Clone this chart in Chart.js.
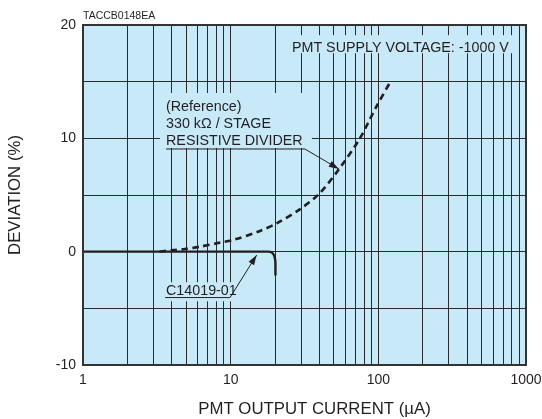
<!DOCTYPE html>
<html>
<head>
<meta charset="utf-8">
<script src="https://cdn.jsdelivr.net/npm/chart.js@4/dist/chart.umd.min.js"></script>
<style>
  html, body { margin: 0; padding: 0; background: #fff; }
  #wrap { width: 542px; height: 419px; }
</style>
</head>
<body>
<div id="wrap"><canvas id="chart" width="542" height="419"></canvas></div>
<script>
// PMT output current (uA) vs deviation (%)
const modelCurrent   = [1, 5, 10, 15, 17.9, 19, 19.7, 20.05, 20.1, 20.1];
const modelDeviation = [0, 0, 0, 0, 0, -0.08, -0.35, -0.8, -1.4, -2.1];

const refCurrent   = [3.3, 4.1, 4.8, 6.2, 8.5, 10.4, 15.8, 20.5, 29.5, 40, 55, 75, 97, 122];
const refDeviation = [0, 0.15, 0.22, 0.44, 0.8, 1.03, 1.83, 2.5, 3.75, 5.15, 7.4, 10, 12.8, 15.1];

const currentGrid = [1, 2, 3, 4, 5, 6, 7, 8, 9, 10, 20, 30, 40, 50, 60, 70, 80, 90,
                     100, 200, 300, 400, 500, 600, 700, 800, 900, 1000];
const currentLabels = [1, 10, 100, 1000];
const deviationLabels = [-10, 0, 10, 20];

const ink = "#231f20";
const plotBg = "#c8e9f8";
const family = "'Liberation Sans', Arial, sans-serif";
const annFont = "14.3px " + family;

function toXY(xs, ys) {
    return xs.map((x, i) => ({ x: x, y: ys[i] }));
}

function arrowHead(ctx, x0, y0, x1, y1) {
    const ang = Math.atan2(y1 - y0, x1 - x0);
    const len = 10, half = 3.2;
    ctx.beginPath();
    ctx.moveTo(x1, y1);
    ctx.lineTo(x1 - len * Math.cos(ang) + half * Math.sin(ang), y1 - len * Math.sin(ang) - half * Math.cos(ang));
    ctx.lineTo(x1 - len * Math.cos(ang) - half * Math.sin(ang), y1 - len * Math.sin(ang) + half * Math.cos(ang));
    ctx.closePath();
    ctx.fill();
}

const plotBackground = {
    id: "plotBackground",
    beforeDraw(chart) {
        const { ctx, chartArea: a } = chart;
        ctx.save();
        ctx.fillStyle = plotBg;
        ctx.fillRect(a.left, a.top, a.right - a.left, a.bottom - a.top);
        ctx.restore();
    }
};

const notes = {
    id: "notes",
    beforeDatasetsDraw(chart) {
        const { ctx, chartArea: a } = chart;
        const xs = chart.scales.x, ys = chart.scales.y;
        ctx.save();

        // label boxes knock out the grid behind the text
        ctx.fillStyle = plotBg;
        let px = xs.getPixelForValue(24.4), py = ys.getPixelForValue(19.1);
        ctx.fillRect(px, py, 228, 18);
        px = xs.getPixelForValue(3.32); py = ys.getPixelForValue(14);
        ctx.fillRect(px, py, 152, 55);
        px = xs.getPixelForValue(3.4); py = ys.getPixelForValue(-2.7);
        ctx.fillRect(px, py, 77, 19);

        ctx.fillStyle = ink;
        ctx.font = annFont;
        ctx.textBaseline = "alphabetic";
        ctx.textAlign = "left";

        ctx.fillText("PMT SUPPLY VOLTAGE: -1000 V", xs.getPixelForValue(26), ys.getPixelForValue(17.6));

        px = xs.getPixelForValue(3.65);
        ctx.fillText("(Reference)", px, ys.getPixelForValue(12.45));
        ctx.fillText("330 k\u03A9 / STAGE", px, ys.getPixelForValue(10.95));
        ctx.fillText("RESISTIVE DIVIDER", px, ys.getPixelForValue(9.42));

        ctx.fillText("C14019-01", xs.getPixelForValue(3.65), ys.getPixelForValue(-3.83));

        // caption code above the plot
        ctx.font = "10.5px " + family;
        ctx.fillText("TACCB0148EA", a.left, a.top - 6);
        ctx.restore();
    },
    afterDatasetsDraw(chart) {
        const { ctx, chartArea: a } = chart;
        const xs = chart.scales.x, ys = chart.scales.y;
        ctx.save();
        ctx.strokeStyle = ink;
        ctx.fillStyle = ink;
        ctx.lineWidth = 1;

        // reference divider leader
        let ux0 = xs.getPixelForValue(3.65), ux1 = xs.getPixelForValue(31.8), uy = ys.getPixelForValue(9.06);
        let tx = xs.getPixelForValue(54), ty = ys.getPixelForValue(7.3);
        ctx.beginPath();
        ctx.moveTo(ux0, uy);
        ctx.lineTo(ux1, uy);
        ctx.lineTo(tx, ty);
        ctx.stroke();
        arrowHead(ctx, ux1, uy, tx, ty);

        // C14019-01 leader
        ux0 = xs.getPixelForValue(3.6); ux1 = xs.getPixelForValue(9.9); uy = ys.getPixelForValue(-4.05);
        tx = xs.getPixelForValue(15); ty = ys.getPixelForValue(-0.3);
        ctx.beginPath();
        ctx.moveTo(ux0, uy);
        ctx.lineTo(ux1, uy);
        ctx.lineTo(tx, ty);
        ctx.stroke();
        arrowHead(ctx, ux1, uy, tx, ty);

        // plot frame
        ctx.strokeStyle = "#333";
        ctx.lineWidth = 2;
        ctx.strokeRect(a.left, a.top, a.right - a.left, a.bottom - a.top);

        // x axis title
        ctx.fillStyle = ink;
        ctx.font = "16.8px " + family;
        ctx.textAlign = "center";
        ctx.textBaseline = "middle";
        ctx.fillText("PMT OUTPUT CURRENT (\u00B5A)", (a.left + a.right) / 2 + 10, 409);
        ctx.restore();
    }
};

const chartCtx = document.getElementById("chart").getContext("2d");

new Chart(chartCtx, {
    type: "line",
    data: {
        datasets: [{
            label: "C14019-01",
            data: toXY(modelCurrent, modelDeviation),
            borderColor: ink,
            borderWidth: 2.4,
            pointRadius: 0,
            tension: 0.3
        }, {
            label: "330 kOhm / stage resistive divider",
            data: toXY(refCurrent, refDeviation),
            borderColor: ink,
            borderWidth: 2.6,
            borderDash: [6.5, 4.5],
            pointRadius: 0,
            tension: 0.3
        }]
    },
    options: {
        responsive: false,
        animation: false,
        layout: { padding: { top: 25, right: 16, bottom: 0, left: 0 } },
        plugins: {
            legend: { display: false },
            tooltip: { enabled: false }
        },
        scales: {
            x: {
                type: "logarithmic",
                min: 1,
                max: 1000,
                afterBuildTicks: scale => {
                    scale.ticks = currentGrid.map(v => ({ value: v }));
                },
                afterFit: scale => {
                    scale.height = 54;
                    scale.paddingLeft = 0;
                    scale.paddingRight = 16;
                },
                grid: { color: "#2b2b2b", lineWidth: 1, drawTicks: false },
                border: { display: false },
                ticks: {
                    autoSkip: false,
                    maxRotation: 0,
                    padding: 7,
                    color: ink,
                    font: { family: family, size: 14 },
                    callback: value => currentLabels.includes(value) ? String(value) : ""
                }
            },
            y: {
                min: -10,
                max: 20,
                afterFit: scale => { scale.width = 83; },
                grid: { color: "#2b2b2b", lineWidth: 1, drawTicks: false },
                border: { display: false },
                ticks: {
                    stepSize: 5,
                    padding: 7,
                    color: ink,
                    font: { family: family, size: 14 },
                    callback: value => deviationLabels.includes(value) ? String(value) : ""
                },
                title: {
                    display: true,
                    text: "DEVIATION (%)",
                    color: ink,
                    font: { family: family, size: 16.8 },
                    padding: { top: 5, bottom: 0 }
                }
            }
        }
    },
    plugins: [plotBackground, notes]
});
</script>
</body>
</html>
